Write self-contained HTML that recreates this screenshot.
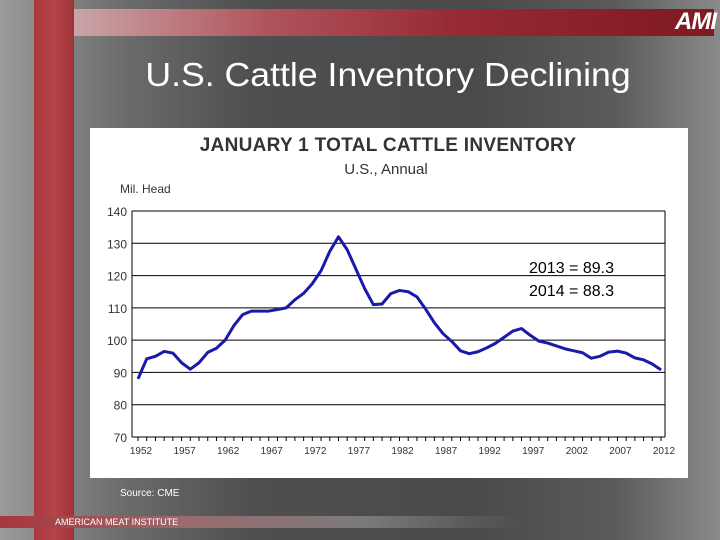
<!DOCTYPE html>
<html><head><meta charset="utf-8"><style>
body{margin:0;width:720px;height:540px;overflow:hidden;font-family:"Liberation Sans",sans-serif}
#bg{position:absolute;left:0;top:0;width:720px;height:540px;background:linear-gradient(90deg,#9a9a9a 0%,#6a6a6a 18%,#4f4f4f 35%,#4a4a4a 65%,#5a5a5a 85%,#8a8a8a 100%)}
</style></head><body>
<div id="bg"></div>
<div style="position:absolute;left:34px;top:0;width:40px;height:540px;background:linear-gradient(90deg,#a83a3e,#b8434a,#9c3338)"></div>
<div style="position:absolute;left:74px;top:9px;width:640px;height:27px;background:linear-gradient(90deg,#c9a5a8 0%,#b0545c 30%,#962a32 60%,#7e1a20 100%)"></div>
<div style="position:absolute;left:650px;top:9px;width:66px;height:28px;color:#fff;font-weight:bold;font-style:italic;font-size:24px;line-height:26px;text-align:right;letter-spacing:-1px">AMI</div>
<div style="position:absolute;left:0;top:55px;width:776px;text-align:center;color:#fff;font-size:33px;line-height:40px;transform:scaleX(1.08);transform-origin:388px 0">U.S. Cattle Inventory Declining</div>
<svg style="position:absolute;left:90px;top:128px" width="598" height="350" id="chart"></svg>
<div style="position:absolute;left:120px;top:488px;color:#fff;font-size:10px">Source: CME</div>
<div style="position:absolute;left:0;top:516px;width:520px;height:12px;background:linear-gradient(90deg,#a8363c,#9a6a6e 35%,#7a7a7a 70%,rgba(90,90,90,0))"></div>
<div style="position:absolute;left:55px;top:517px;color:#fff;font-size:9px;line-height:11px">AMERICAN MEAT INSTITUTE</div>
<script>
const years=[];for(let y=1952;y<=2012;y++)years.push(y);
const values=[88,94.2,95,96.5,96,93,91,93,96.2,97.5,100,104.5,107.9,109,109,109,109.5,110,112.5,114.5,117.5,121.5,127.5,132,128,122,116,111,111.2,114.4,115.4,115,113.4,109.6,105.4,102,99.6,96.7,95.8,96.4,97.6,99,100.9,102.8,103.6,101.5,99.7,99.1,98.2,97.3,96.7,96.1,94.4,95,96.3,96.6,96,94.5,93.9,92.6,90.8];
const yTicks=[70,80,90,100,110,120,130,140];
const xTickLabels=[1952,1957,1962,1967,1972,1977,1982,1987,1992,1997,2002,2007,2012];
const NS="http://www.w3.org/2000/svg";
const svg=document.getElementById('chart');
function el(t,a,p){const e=document.createElementNS(NS,t);for(const k in a)e.setAttribute(k,a[k]);(p||svg).appendChild(e);return e;}
const L=42,R=575,T=83,B=309;
const xs=y=>48+(y-1952)*(571-48)/60;
const ys=v=>B-(v-70)*(B-T)/70;
el('rect',{x:0,y:0,width:598,height:350,fill:'#fff'});
let t=el('text',{x:298,y:23,'text-anchor':'middle','font-size':19,'font-weight':'bold',fill:'#333','letter-spacing':'0.3'});t.textContent='JANUARY 1  TOTAL  CATTLE  INVENTORY';
t.setAttribute('xml:space','preserve');

t=el('text',{x:296,y:46,'text-anchor':'middle','font-size':15,fill:'#333'});t.textContent='U.S., Annual';

t=el('text',{x:30,y:65,'font-size':12,fill:'#333'});t.textContent='Mil. Head';

yTicks.forEach(v=>{
  const g=el('line',{x1:L,x2:R,y1:ys(v),y2:ys(v),stroke:'#000','stroke-width':1});
  
  const tx=el('text',{x:L-5,y:ys(v)+5,'text-anchor':'end','font-size':12,fill:'#333'});tx.textContent=v;
  
});
el('line',{x1:L,x2:L,y1:T,y2:B,stroke:'#000'});
el('line',{x1:R,x2:R,y1:T,y2:B,stroke:'#000'});
years.forEach(y=>{el('line',{x1:xs(y),x2:xs(y),y1:B,y2:B+4,stroke:'#000'});});
xTickLabels.forEach(y=>{
  const tx=el('text',{x:xs(y)+3,y:B+17,'text-anchor':'middle','font-size':10,fill:'#333'});tx.textContent=y;
  
});
const p=el('polyline',{points:years.map((y,i)=>xs(y)+','+ys(values[i])).join(' '),fill:'none',stroke:'#1a1aa8','stroke-width':3,'stroke-linejoin':'round'});

t=el('text',{x:439,y:145,'font-size':16,fill:'#000'});t.textContent='2013 = 89.3';

t=el('text',{x:439,y:168,'font-size':16,fill:'#000'});t.textContent='2014 = 88.3';

</script>
</body></html>
